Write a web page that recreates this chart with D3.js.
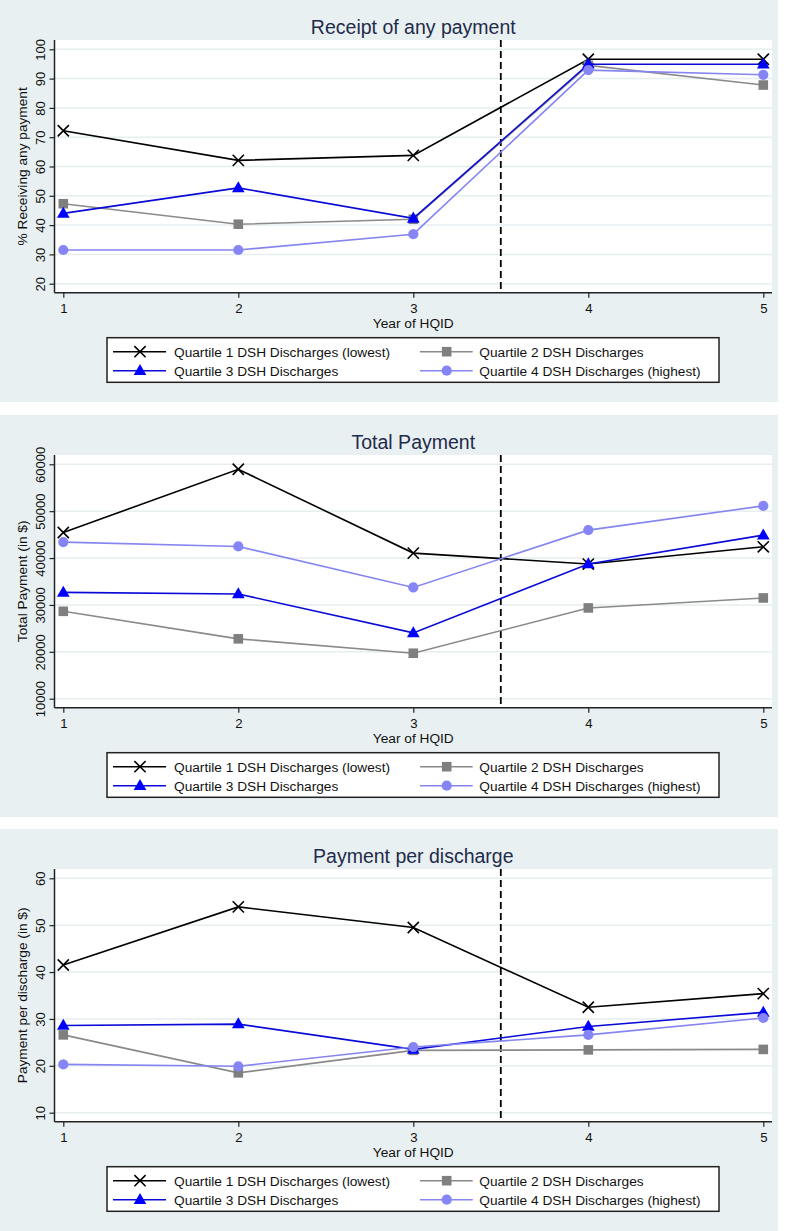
<!DOCTYPE html>
<html>
<head>
<meta charset="utf-8">
<script src="https://cdn.jsdelivr.net/npm/d3@7"></script>
<style>
  html, body { margin: 0; padding: 0; background: #ffffff; }
  svg { display: block; }
  text { font-family: "Liberation Sans", Arial, Helvetica, sans-serif; }
</style>
</head>
<body>
<svg id="chart" width="789" height="1231"></svg>
<script>
// ---------------- DATA ----------------
const years = [1, 2, 3, 4, 5];
const seriesNames = [
  "Quartile 1 DSH Discharges (lowest)",
  "Quartile 2 DSH Discharges",
  "Quartile 3 DSH Discharges",
  "Quartile 4 DSH Discharges (highest)"
];
const cutoffYear = 3.5;
const xAxisTitle = "Year of HQID";

// Panel 1: Receipt of any payment (%)
const receiptTicks = [20, 30, 40, 50, 60, 70, 80, 90, 100];
const receiptQ1 = [72.2, 62.1, 63.8, 96.6, 96.6];
const receiptQ2 = [47.3, 40.3, 42.0, 94.5, 87.8];
const receiptQ3 = [44.0, 52.7, 42.3, 94.9, 94.9];
const receiptQ4 = [31.5, 31.5, 36.9, 92.9, 91.3];

// Panel 2: Total payment ($)
const totalTicks = [10000, 20000, 30000, 40000, 50000, 60000];
const totalQ1 = [45450, 58940, 41060, 38720, 42400];
const totalQ2 = [28640, 22770, 19700, 29360, 31490];
const totalQ3 = [32680, 32340, 24040, 38720, 44890];
const totalQ4 = [43400, 42470, 33740, 45960, 51130];

// Panel 3: Payment per discharge ($)
const perTicks = [10, 20, 30, 40, 50, 60];
const perQ1 = [41.5, 53.9, 49.5, 32.5, 35.4];
const perQ2 = [26.6, 18.5, 23.3, 23.4, 23.5];
const perQ3 = [28.6, 28.9, 23.5, 28.4, 31.4];
const perQ4 = [20.3, 19.9, 24.0, 26.6, 30.2];

const panels = [
  { title: "Receipt of any payment", yTitle: "% Receiving any payment", ticks: receiptTicks,
    values: [receiptQ1, receiptQ2, receiptQ3, receiptQ4] },
  { title: "Total Payment", yTitle: "Total Payment (in $)", ticks: totalTicks,
    values: [totalQ1, totalQ2, totalQ3, totalQ4] },
  { title: "Payment per discharge", yTitle: "Payment per discharge (in $)", ticks: perTicks,
    values: [perQ1, perQ2, perQ3, perQ4] }
];

// ---------------- STYLE ----------------
const panelTops = [0, 415, 829];
const panelH = 402, panelW = 778;
const bg = "#e9f0f2";
const plotL = 54.5, plotR = 772, plotT = 40, plotB = 292.7;
const styles = [
  { line: "#000000", fill: "#000000", shape: "x" },
  { line: "#8a8a8a", fill: "#7f7f7f", shape: "square" },
  { line: "#0a0ad8", fill: "#0000ff", shape: "triangle" },
  { line: "#8585f2", fill: "#8585f7", shape: "circle" }
];

const svg = d3.select("#chart");
const x = d3.scaleLinear().domain([1, 5]).range([63.3, 763.3]);

function drawMarker(g, shape, cx, cy, st) {
  if (shape === "x") {
    const s = 5.6;
    g.append("path")
      .attr("transform", `translate(${cx},${cy})`)
      .attr("d", `M${-s},${-s}L${s},${s}M${-s},${s}L${s},${-s}`)
      .attr("stroke", st.fill).attr("stroke-width", 1.6).attr("fill", "none");
  } else {
    const type = shape === "square" ? d3.symbolSquare : shape === "triangle" ? d3.symbolTriangle : d3.symbolCircle;
    const size = shape === "square" ? 92 : shape === "triangle" ? 70 : 82;
    const dy = shape === "triangle" ? 0.6 : 0;
    g.append("path")
      .attr("transform", `translate(${cx},${cy + dy})`)
      .attr("d", d3.symbol().type(type).size(size)())
      .attr("fill", st.fill);
  }
}

panels.forEach((p, i) => {
  const g = svg.append("g").attr("transform", `translate(0,${panelTops[i]})`);
  g.append("rect").attr("x", 0).attr("y", 0).attr("width", panelW).attr("height", panelH).attr("fill", bg);
  g.append("rect").attr("x", plotL).attr("y", plotT).attr("width", plotR - plotL).attr("height", plotB - plotT).attr("fill", "#ffffff");

  const y = d3.scaleLinear().domain([p.ticks[0], p.ticks[p.ticks.length - 1]]).range([283.7, 49.3]);

  // grid
  g.append("g").selectAll("line").data(p.ticks).join("line")
    .attr("x1", plotL).attr("x2", plotR)
    .attr("y1", d => y(d)).attr("y2", d => y(d))
    .attr("stroke", "#e6eef0").attr("stroke-width", 1.5);

  // title
  g.append("text").attr("x", (x(1) + x(5)) / 2).attr("y", 34)
    .attr("text-anchor", "middle").attr("font-size", 19.5).attr("fill", "#1f2b4a").text(p.title);

  // y axis
  const ya = g.append("g").attr("transform", `translate(${plotL},0)`)
    .call(d3.axisLeft(y).tickValues(p.ticks).tickSize(5).tickFormat(d3.format("d")));
  ya.select(".domain").remove();
  ya.selectAll(".tick line").attr("stroke", "#222").attr("stroke-width", 1.2);
  ya.selectAll(".tick text")
    .attr("transform", "rotate(-90)").attr("x", 0).attr("y", -9.5).attr("dy", 0)
    .attr("text-anchor", "middle").attr("font-size", 13).attr("fill", "#111")
    .attr("font-family", "Liberation Sans, Arial, sans-serif");
  g.append("line").attr("x1", plotL).attr("x2", plotL).attr("y1", plotT).attr("y2", plotB)
    .attr("stroke", "#222").attr("stroke-width", 1.5);

  g.append("text").attr("transform", `translate(27,${(plotT + plotB) / 2}) rotate(-90)`)
    .attr("text-anchor", "middle").attr("font-size", 13.7).attr("fill", "#111").text(p.yTitle);

  // x axis
  const xa = g.append("g").attr("transform", `translate(0,${plotB})`)
    .call(d3.axisBottom(x).tickValues(years).tickSize(5).tickFormat(d3.format("d")));
  xa.select(".domain").remove();
  xa.selectAll(".tick line").attr("stroke", "#222").attr("stroke-width", 1.2);
  xa.selectAll(".tick text").attr("y", 10.5).attr("font-size", 13.2).attr("fill", "#111")
    .attr("font-family", "Liberation Sans, Arial, sans-serif");
  g.append("line").attr("x1", plotL).attr("x2", plotR).attr("y1", plotB).attr("y2", plotB)
    .attr("stroke", "#222").attr("stroke-width", 1.5);

  g.append("text").attr("x", (x(1) + x(5)) / 2).attr("y", 328)
    .attr("text-anchor", "middle").attr("font-size", 13.7).attr("fill", "#111").text(xAxisTitle);

  // cutoff dashed line
  g.append("line").attr("x1", x(cutoffYear)).attr("x2", x(cutoffYear))
    .attr("y1", plotT).attr("y2", plotB)
    .attr("stroke", "#000").attr("stroke-width", 1.8).attr("stroke-dasharray", "7,4");

  // series
  const line = d3.line().x((d, j) => x(years[j])).y(d => y(d));
  p.values.forEach((vals, k) => {
    const st = styles[k];
    g.append("path").datum(vals).attr("d", line)
      .attr("fill", "none").attr("stroke", st.line).attr("stroke-width", 1.6);
    const mg = g.append("g");
    vals.forEach((v, j) => drawMarker(mg, st.shape, x(years[j]), y(v), st));
  });

  // legend
  const lg = g.append("g");
  lg.append("rect").attr("x", 107).attr("y", 337.7).attr("width", 612).attr("height", 44.6)
    .attr("fill", "#fff").attr("stroke", "#222").attr("stroke-width", 1.5);
  const colLine = [[113, 166, 140, 174], [420, 472.7, 446.7, 479.3]];
  const rowY = [351.7, 370.7];
  seriesNames.forEach((name, k) => {
    const c = colLine[k % 2], ry = rowY[Math.floor(k / 2)], st = styles[k];
    lg.append("line").attr("x1", c[0]).attr("x2", c[1]).attr("y1", ry).attr("y2", ry)
      .attr("stroke", st.line).attr("stroke-width", 1.6);
    drawMarker(lg, st.shape, c[2], ry, st);
    lg.append("text").attr("x", c[3]).attr("y", ry + 4.8)
      .attr("font-size", 13.7).attr("fill", "#111").text(name);
  });
});
</script>
</body>
</html>
